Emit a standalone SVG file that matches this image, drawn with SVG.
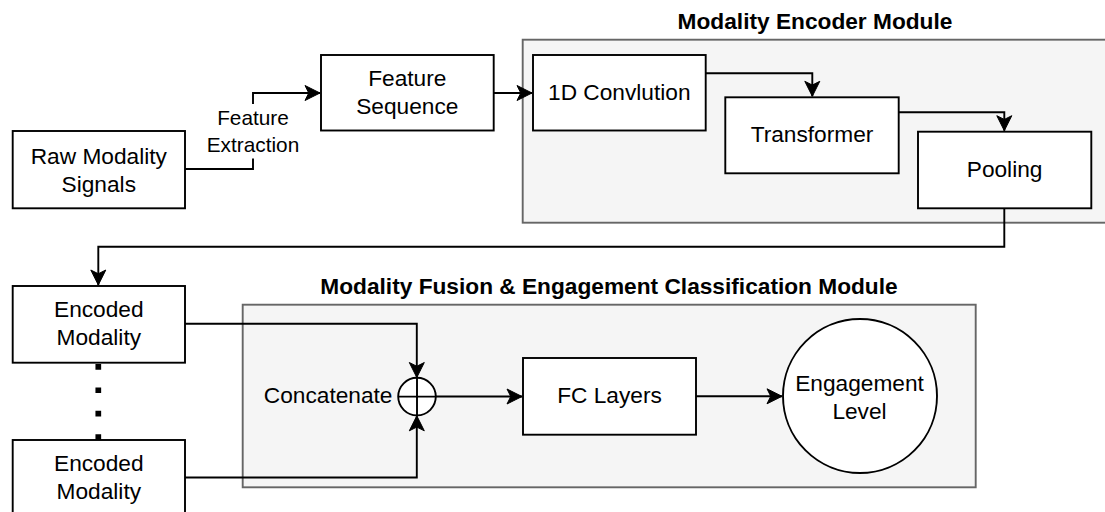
<svg xmlns="http://www.w3.org/2000/svg" width="1105" height="512" viewBox="0 0 1105 512">
  <style>
    .box { fill: #ffffff; stroke: #000000; stroke-width: 1.9; }
    .group { fill: #f5f5f5; stroke: #666666; stroke-width: 1.9; }
    .txt { font-family: "Liberation Sans", Arial, sans-serif; font-size: 22.7px; fill: #000000; text-anchor: middle; }
    .lbl { font-family: "Liberation Sans", Arial, sans-serif; font-size: 20.8px; fill: #000000; text-anchor: middle; }
    .title { font-family: "Liberation Sans", Arial, sans-serif; font-size: 22.7px; font-weight: bold; fill: #000000; text-anchor: middle; }
    .edge { fill: none; stroke: #000000; stroke-width: 1.9; }
    .dots { fill: none; stroke: #000000; stroke-width: 5.7; stroke-dasharray: 5.7 17.7; }
  </style>
  <defs>
    <marker id="arrow" viewBox="-16 -8 17 16" refX="0" refY="0" markerWidth="17" markerHeight="16" markerUnits="userSpaceOnUse" orient="auto" overflow="visible">
      <path d="M0,0 L-15,-7.5 L-11.25,0 L-15,7.5 Z" fill="#000000" stroke="#000000" stroke-width="1"/>
    </marker>
  </defs>

  <!-- module containers -->
  <g id="encoder-module">
    <rect class="group" x="522.7" y="39.7" width="590" height="183"/>
    <text class="title" x="815" y="29">Modality Encoder Module</text>
  </g>
  <g id="fusion-module">
    <rect class="group" x="242.7" y="304.7" width="733" height="182.6"/>
    <text class="title" x="609" y="294">Modality Fusion &amp; Engagement Classification Module</text>
  </g>

  <!-- connectors -->
  <g id="connectors">
    <path class="edge" d="M185,169 H253 V93 H320" marker-end="url(#arrow)"/>
    <rect x="205" y="104" width="95" height="54.5" fill="#ffffff"/>
    <text class="lbl" x="253" y="125">Feature</text>
    <text class="lbl" x="253" y="151.7">Extraction</text>
    <path class="edge" d="M493.7,93 H532" marker-end="url(#arrow)"/>
    <path class="edge" d="M705.7,73.3 H812.3 V96.3" marker-end="url(#arrow)"/>
    <path class="edge" d="M898.7,112.3 H1004.3 V130.7" marker-end="url(#arrow)"/>
    <path class="edge" d="M1004.3,208.3 V246.7 H98.3 V285" marker-end="url(#arrow)"/>
    <path class="dots" d="M98.3,364 V440"/>
    <path class="edge" d="M185,323.7 H416.8 V377.5" marker-end="url(#arrow)"/>
    <path class="edge" d="M185,477.5 H416.8 V415.8" marker-end="url(#arrow)"/>
    <path class="edge" d="M435.8,396.5 H522" marker-end="url(#arrow)"/>
    <path class="edge" d="M696,396.3 H782" marker-end="url(#arrow)"/>
  </g>

  <!-- nodes -->
  <g id="raw-signals">
    <rect class="box" x="12.7" y="131" width="172.3" height="77.3"/>
    <text class="txt" x="98.8" y="164">Raw Modality</text>
    <text class="txt" x="98.8" y="191.7">Signals</text>
  </g>
  <g id="feature-sequence">
    <rect class="box" x="321" y="55" width="172.7" height="75.5"/>
    <text class="txt" x="407.3" y="85.7">Feature</text>
    <text class="txt" x="407.3" y="113.5">Sequence</text>
  </g>
  <g id="conv1d">
    <rect class="box" x="533" y="55" width="172.7" height="75.5"/>
    <text class="txt" x="619.3" y="100.3">1D Convlution</text>
  </g>
  <g id="transformer">
    <rect class="box" x="725.3" y="97.3" width="173.4" height="76"/>
    <text class="txt" x="812" y="141.7">Transformer</text>
  </g>
  <g id="pooling">
    <rect class="box" x="918" y="131.7" width="173.3" height="76.6"/>
    <text class="txt" x="1004.6" y="176.7">Pooling</text>
  </g>
  <g id="encoded-modality-1">
    <rect class="box" x="12.7" y="286" width="172.3" height="76.7"/>
    <text class="txt" x="98.8" y="316.7">Encoded</text>
    <text class="txt" x="98.8" y="345.3">Modality</text>
  </g>
  <g id="encoded-modality-n">
    <rect class="box" x="12.7" y="440" width="172.3" height="77"/>
    <text class="txt" x="98.8" y="470.7">Encoded</text>
    <text class="txt" x="98.8" y="499.3">Modality</text>
  </g>
  <g id="concatenate">
    <circle cx="417" cy="396.6" r="18.8" fill="#ffffff" stroke="#000000" stroke-width="1.9"/>
    <path d="M398.2,396.6 H435.8 M417,377.8 V415.4" stroke="#000000" stroke-width="1.9" fill="none"/>
    <text class="txt" x="392.5" y="403" style="text-anchor:end">Concatenate</text>
  </g>
  <g id="fc-layers">
    <rect class="box" x="523" y="358" width="173" height="76.7"/>
    <text class="txt" x="609.5" y="403.3">FC Layers</text>
  </g>
  <g id="engagement-level">
    <circle cx="860" cy="396" r="77" fill="#ffffff" stroke="#000000" stroke-width="1.9"/>
    <text class="txt" x="859.5" y="391">Engagement</text>
    <text class="txt" x="859.5" y="419">Level</text>
  </g>
</svg>
